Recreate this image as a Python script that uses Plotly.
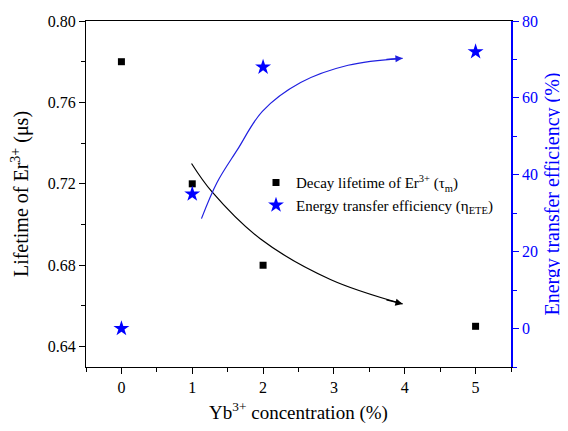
import plotly.graph_objects as go

# Data
conc = [0, 1, 2, 5]
lifetime = [0.78, 0.72, 0.68, 0.65]
efficiency = [0, 35, 68, 72]
x_ticks = [0, 1, 2, 3, 4, 5]

# Trend-arrow guide curves (data coordinates)
black_curve_x = [0.99, 1.28, 1.96, 2.95, 3.97]
black_curve_y = [0.730, 0.716, 0.693, 0.673, 0.661]
blue_curve_x = [1.13, 1.35, 1.64, 1.99, 2.53, 3.2, 3.97]
blue_curve_y = [28.6, 38.0, 46.6, 56.5, 64.0, 68.5, 70.3]

FONT = "Liberation Serif"
BLUE = "#0000ff"

fig = go.Figure()

fig.add_trace(go.Scatter(
    x=black_curve_x, y=black_curve_y, mode="lines",
    line=dict(color="black", width=1.2, shape="spline"),
    showlegend=False, hoverinfo="skip"))
fig.add_trace(go.Scatter(
    x=blue_curve_x, y=blue_curve_y, mode="lines", yaxis="y2",
    line=dict(color="#2020e0", width=1.2, shape="spline"),
    showlegend=False, hoverinfo="skip"))

fig.add_trace(go.Scatter(
    x=conc, y=lifetime, mode="markers",
    marker=dict(symbol="square", size=7, color="black"),
    name="Decay lifetime of Er<sup>3+</sup> (τ<sub>m</sub>)"))
fig.add_trace(go.Scatter(
    x=conc, y=efficiency, mode="markers", yaxis="y2",
    marker=dict(symbol="star", size=12, color=BLUE),
    name="Energy transfer efficiency (η<sub>ETE</sub>)"))

# arrowheads
fig.add_annotation(x=black_curve_x[-1], y=black_curve_y[-1], xref="x", yref="y",
                   ax=black_curve_x[-1] - 0.25, ay=black_curve_y[-1] + 0.0022,
                   axref="x", ayref="y", showarrow=True, arrowhead=2,
                   arrowsize=1.2, arrowwidth=1.2, arrowcolor="black", text="")
fig.add_annotation(x=blue_curve_x[-1], y=blue_curve_y[-1], xref="x", yref="y2",
                   ax=blue_curve_x[-1] - 0.25, ay=blue_curve_y[-1] - 0.3,
                   axref="x", ayref="y2", showarrow=True, arrowhead=2,
                   arrowsize=1.2, arrowwidth=1.2, arrowcolor="#2020e0", text="")

# page body has an 8px margin, so the figure is 8px smaller than the window
fig.update_layout(
    width=560, height=423,
    margin=dict(l=78, r=57, t=13, b=64),
    paper_bgcolor="white", plot_bgcolor="white",
    font=dict(family=FONT, size=16, color="black"),
    xaxis=dict(
        range=[-0.5, 5.5], tickmode="array", tickvals=x_ticks,
        ticktext=[str(v) for v in x_ticks], automargin=False,
        ticks="outside", ticklen=6, tickwidth=1, tickcolor="black",
        minor=dict(dtick=0.5, tick0=0, ticks="outside", ticklen=4, tickcolor="black"),
        showline=True, linecolor="black", linewidth=1.2, mirror=True,
        showgrid=False, zeroline=False,
        title=dict(text="Yb<sup>3+</sup> concentration (%)", font=dict(size=19), standoff=10),
    ),
    yaxis=dict(
        range=[0.63, 0.80], tickvals=[0.64, 0.68, 0.72, 0.76, 0.80],
        ticktext=["0.64", "0.68", "0.72", "0.76", "0.80"], automargin=False,
        ticks="outside", ticklen=6, tickcolor="black",
        minor=dict(dtick=0.02, tick0=0.64, ticks="outside", ticklen=4, tickcolor="black"),
        showline=True, linecolor="black", linewidth=1.2,
        showgrid=False, zeroline=False,
        title=dict(text="Lifetime of Er<sup>3+</sup> (μs)", font=dict(size=20), standoff=14),
    ),
    yaxis2=dict(
        overlaying="y", side="right", anchor="x", automargin=False,
        range=[-10, 80], tickvals=[0, 20, 40, 60, 80],
        ticks="outside", ticklen=6, tickcolor=BLUE,
        minor=dict(dtick=10, tick0=0, ticks="outside", ticklen=4, tickcolor=BLUE),
        tickfont=dict(color=BLUE),
        showline=True, linecolor=BLUE, linewidth=1.5,
        showgrid=False, zeroline=False,
        title=dict(text="Energy transfer efficiency (%)", font=dict(size=20, color=BLUE), standoff=8),
    ),
    legend=dict(x=0.40, y=0.58, xanchor="left", yanchor="top",
                bgcolor="rgba(0,0,0,0)", font=dict(size=15),
                itemsizing="trace", tracegroupgap=0),
)

fig.write_html("out.html")
